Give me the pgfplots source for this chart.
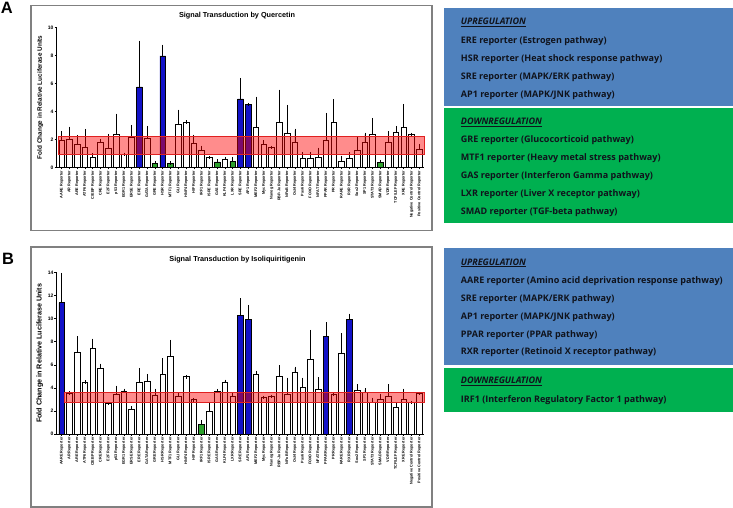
\documentclass[border=0pt]{standalone}
\usepackage{fontspec}
\setmainfont{Liberation Sans}
\newfontfamily\panelfont{Open Sans}
\usepackage{pgfplots}
\pgfplotsset{compat=1.18}
\usepackage{pgfplotstable}

\definecolor{barblue}{HTML}{1212C8}
\definecolor{bargreen}{HTML}{2CA02C}
\definecolor{panelblue}{HTML}{4F81BD}
\definecolor{panelgreen}{HTML}{00B050}
\definecolor{bandline}{HTML}{E02020}
\definecolor{paneltext}{HTML}{10131C}

% ---------- Chart A (Quercetin): x = category index, y = mean, e = upper error
\pgfplotstableread{
x y e
1 1.90 0.58
2 2.02 0.77
3 1.64 0.55
4 1.43 1.19
5 0.69 0.19
6 1.79 0.11
7 1.38 0.88
8 2.36 1.35
9 0.90 0.02
10 2.12 0.78
12 2.05 0.78
16 3.07 0.93
17 3.19 0.05
18 1.69 0.52
19 1.19 0.24
20 0.71 0.00
22 0.57 0.05
26 2.88 2.05
27 1.67 0.14
28 1.43 0.00
29 3.24 2.19
30 2.45 1.88
31 1.81 0.83
32 0.62 0.36
33 0.62 0.33
34 0.74 0.55
35 1.90 1.86
36 3.21 1.53
37 0.45 0.26
38 0.62 0.33
39 1.24 0.78
40 1.81 0.55
41 2.36 1.04
43 1.81 0.64
44 2.52 0.31
45 2.83 1.57
46 2.33 0.03
47 1.31 0.24
}\QwhiteA
\pgfplotstableread{
x y e
11 5.74 3.19
14 7.95 0.69
24 4.88 1.38
25 4.48 0.00
}\QblueA
\pgfplotstableread{
x y e
13 0.26 0.07
15 0.26 0.05
21 0.38 0.07
23 0.40 0.22
42 0.36 0.04
}\QgreenA

% ---------- Chart B (Isoliquiritigenin)
\pgfplotstableread{
x y e
2 3.51 0.06
3 7.07 1.25
4 4.52 0.00
5 7.42 0.72
6 5.68 0.29
7 2.67 0.00
8 3.48 0.58
9 3.74 0.06
10 2.12 0.14
11 4.52 1.07
12 4.55 0.52
13 3.39 0.41
14 5.19 1.22
15 6.72 1.31
16 3.25 0.20
17 4.96 0.00
18 2.96 0.00
20 1.97 0.67
21 3.68 0.09
22 4.52 0.06
23 3.25 0.23
26 5.19 0.14
27 3.19 0.00
28 3.28 0.00
29 5.04 0.76
30 3.48 1.27
31 5.33 0.38
32 4.06 0.69
33 6.49 2.41
34 3.88 0.90
36 3.42 0.00
37 6.99 1.59
39 3.77 0.40
40 3.59 0.24
41 2.78 0.23
42 2.99 0.37
43 3.25 0.92
44 2.29 0.35
45 3.04 0.76
46 2.72 0.00
47 3.51 0.00
}\IwhiteB
\pgfplotstableread{
x y e
1 11.39 2.44
24 10.29 1.36
25 9.94 1.13
35 8.46 1.11
38 9.94 0.35
}\IblueB
\pgfplotstableread{
x y e
19 0.87 0.20
}\IgreenB

\pgfplotsset{
  mybar/.style={ybar, bar width=5.6bp, bar shift=0pt, draw=black, line width=0.8bp,
    error bars/y dir=plus, error bars/y explicit,
    error bars/error bar style={line width=0.8bp, black},
    error bars/error mark options={line width=0.8bp, black, mark size=1.7bp}},
  chart/.style={
    scale only axis, width=367.3bp,
    xmin=0.356, xmax=47.6, ymin=0,
    axis x line=bottom, axis y line=left,
    axis line style={-, line width=0.9bp, black},
    tick align=outside,
    major tick length=2.2bp,
    tick style={black, line width=0.7bp},
    xtick={1,...,47},
    xticklabels={AARE Reporter, AR Reporter, ARE Reporter, ATF6 Reporter, C/EBP Reporter, CRE Reporter, E2F Reporter, p53 Reporter, EGR1 Reporter, ERSE Reporter, ERE Reporter, GATA Reporter, GRE Reporter, HSR Reporter, MTF1 Reporter, GLI Reporter, HNF4 Reporter, HIF Reporter, IRF1 Reporter, ISRE Reporter, GAS Reporter, KLF4 Reporter, LXR Reporter, SRE Reporter, AP1 Reporter, MEF2 Reporter, Myc Reporter, Nanog Reporter, RBP-Jκ Reporter, NFκB Reporter, Oct4 Reporter, Pax6 Reporter, FOXO Reporter, NFAT Reporter, PPAR Reporter, PR Reporter, RARE Reporter, RXR Reporter, Sox2 Reporter, SP1 Reporter, STAT3 Reporter, SMAD Reporter, VDR Reporter, TCF/LEF Reporter, XRE Reporter, Negative Control Reporter, Positive Control Reporter},
    x tick label style={rotate=90, anchor=east, font=\fontsize{3.8}{4}\selectfont\bfseries, inner sep=1bp},
    y tick label style={font=\fontsize{5}{5}\selectfont\bfseries, inner sep=1bp},
    /pgf/number format/assume math mode=true,
    ylabel={Fold Change in Relative Luciferase Units},
    clip=false,
  }
}

\begin{document}
\begin{tikzpicture}
\path[use as bounding box] (0bp,0bp) rectangle (733bp,508bp);

% chart frames
\draw[line width=1.3bp, color=black!50] (31bp,277.3bp) rectangle (432bp,502.3bp);
\draw[line width=1.3bp, color=black!50] (31bp,1bp) rectangle (432bp,261bp);

% panel letters
\node[font=\fontsize{16.5}{17}\selectfont\bfseries] at (6.8bp,500.5bp) {A};
\node[font=\fontsize{16.5}{17}\selectfont\bfseries] at (8bp,248.8bp) {B};

% titles
\node[font=\fontsize{7.3}{8}\selectfont\bfseries] at (237bp,492.3bp) {Signal Transduction by Quercetin};
\node[font=\fontsize{7.3}{8}\selectfont\bfseries] at (237.5bp,248bp) {Signal Transduction by Isoliquiritigenin};

% ---- Chart A
\begin{axis}[chart, at={(56.7bp,340.7bp)}, anchor=south west,
  height=140bp, ymax=10, ytick={0,2,...,10},
  ylabel style={font=\fontsize{6.4}{7}\selectfont\bfseries}]
\addplot[mybar, fill=white] table[x=x, y=y, y error=e] {\QwhiteA};
\addplot[mybar, fill=barblue] table[x=x, y=y, y error=e] {\QblueA};
\addplot[mybar, fill=bargreen] table[x=x, y=y, y error=e] {\QgreenA};
\addplot[draw=bandline, line width=0.8bp, fill=red, fill opacity=0.45, mark=none]
  coordinates {(0.56,0.93) (47.64,0.93) (47.64,2.24) (0.56,2.24)} -- cycle;
\end{axis}

% ---- Chart B
\begin{axis}[chart, at={(56.7bp,74bp)}, anchor=south west,
  height=161.3bp, ymax=14, ytick={0,2,...,14},
  ylabel style={font=\fontsize{7.2}{8}\selectfont\bfseries}]
\addplot[mybar, fill=white] table[x=x, y=y, y error=e] {\IwhiteB};
\addplot[mybar, fill=barblue] table[x=x, y=y, y error=e] {\IblueB};
\addplot[mybar, fill=bargreen] table[x=x, y=y, y error=e] {\IgreenB};
\addplot[draw=bandline, line width=0.8bp, fill=red, fill opacity=0.45, mark=none]
  coordinates {(1.39,2.78) (47.64,2.78) (47.64,3.59) (1.39,3.59)} -- cycle;
\end{axis}

% ---- side panels
\fill[panelblue] (444bp,402bp) rectangle (733bp,499.7bp);
\fill[panelgreen] (444bp,285.3bp) rectangle (733bp,399.7bp);
\fill[panelblue] (444bp,143.3bp) rectangle (733bp,259.7bp);
\fill[panelgreen] (444bp,96.3bp) rectangle (733bp,140.3bp);

\begin{scope}[every node/.style={anchor=west, inner sep=0pt, text height=6.6bp, text depth=1.9bp,
   font=\panelfont\fontsize{9.05}{10}\selectfont\bfseries, text=paneltext}]
\node at (460.7bp,486bp) {\itshape\underline{UPREGULATION}};
\node at (460.7bp,466.7bp) {ERE reporter (Estrogen pathway)};
\node at (460.7bp,449.3bp) {HSR reporter (Heat shock response pathway)};
\node at (460.7bp,431.3bp) {SRE reporter (MAPK/ERK pathway)};
\node at (460.7bp,413.3bp) {AP1 reporter (MAPK/JNK pathway)};
\node at (460.7bp,386bp) {\itshape\underline{DOWNREGULATION}};
\node at (460.7bp,368bp) {GRE reporter (Glucocorticoid pathway)};
\node at (460.7bp,350bp) {MTF1 reporter (Heavy metal stress pathway)};
\node at (460.7bp,332.3bp) {GAS reporter (Interferon Gamma pathway)};
\node at (460.7bp,314.3bp) {LXR reporter (Liver X receptor pathway)};
\node at (460.7bp,296.3bp) {SMAD reporter (TGF-beta pathway)};

\node at (460.7bp,245.3bp) {\itshape\underline{UPREGULATION}};
\node at (460.7bp,227.3bp) {AARE reporter (Amino acid deprivation response pathway)};
\node at (460.7bp,209.3bp) {SRE reporter (MAPK/ERK pathway)};
\node at (460.7bp,191.3bp) {AP1 reporter (MAPK/JNK pathway)};
\node at (460.7bp,173.3bp) {PPAR reporter (PPAR pathway)};
\node at (460.7bp,155.7bp) {RXR reporter (Retinoid X receptor pathway)};
\node at (460.7bp,126.7bp) {\itshape\underline{DOWNREGULATION}};
\node at (460.7bp,108bp) {IRF1 (Interferon Regulatory Factor 1 pathway)};
\end{scope}
\end{tikzpicture}
\end{document}
